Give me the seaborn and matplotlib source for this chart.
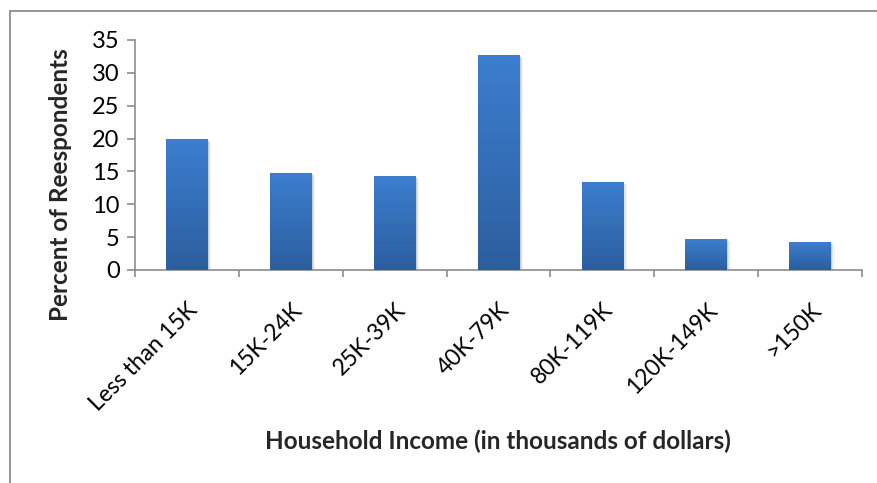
import numpy as np
import pandas as pd
import matplotlib
matplotlib.use("Agg")
import matplotlib.pyplot as plt
from matplotlib.colors import LinearSegmentedColormap
from matplotlib.patches import Rectangle
import seaborn as sns

# Survey results: share of respondents per household income bracket
income_brackets = ["Less than 15K", "15K-24K", "25K-39K", "40K-79K",
                   "80K-119K", "120K-149K", ">150K"]
percent_respondents = [20.0, 14.8, 14.3, 32.7, 13.4, 4.7, 4.3]
y_ticks = [0, 5, 10, 15, 20, 25, 30, 35]

sns.set_theme(style="white")
plt.rcParams["font.family"] = ["Lato", "DejaVu Sans"]

df = pd.DataFrame({"bracket": income_brackets, "pct": percent_respondents})

fig = plt.figure(figsize=(8.77, 4.83), dpi=100)
ax = fig.add_axes([135 / 877, 1 - 270 / 483, 727 / 877, 230 / 483])

sns.barplot(data=df, x="bracket", y="pct", ax=ax, color="#3870B8",
            width=0.4, saturation=1.0, zorder=3)

# vertical gradient fill on every bar, clipped to the bar shape
grad_cmap = LinearSegmentedColormap.from_list("bar_grad", ["#2C5E9E", "#3C7ECF"])
grad = np.linspace(0, 1, 256).reshape(-1, 1)
for bar in list(ax.patches):
    x0, y0 = bar.get_x(), bar.get_y()
    w, h = bar.get_width(), bar.get_height()
    # soft drop shadow
    for k, a in enumerate([0.10, 0.07, 0.04]):
        off = 0.012 * (k + 1)
        sh = Rectangle((x0 + off, y0 - 0.15 * (k + 1)), w, h, facecolor="black",
                       alpha=a, edgecolor="none", zorder=2)
        ax.add_patch(sh)
    im = ax.imshow(grad, cmap=grad_cmap, aspect="auto", origin="lower",
                   extent=[x0, x0 + w, y0, y0 + h], zorder=4)
    im.set_clip_path(bar)
    bar.set_edgecolor("none")

ax.set_xlim(-0.5, len(income_brackets) - 0.5)
ax.set_ylim(0, 35)
ax.set_yticks(y_ticks)
ax.set_yticklabels([str(t) for t in y_ticks], fontsize=17, color="black")

# category labels at bar centres, tick marks at category boundaries
ax.set_xticks(range(len(income_brackets)))
ax.set_xticklabels(income_brackets, rotation=45, ha="right",
                   rotation_mode="anchor", fontsize=16.5, color="black")
ax.set_xticks(np.arange(-0.5, len(income_brackets), 1.0), minor=True)
ax.tick_params(axis="x", which="major", length=0, pad=21)
ax.tick_params(axis="x", which="minor", length=5, width=1.2, color="#8C8C8C",
               direction="out", bottom=True)
ax.tick_params(axis="y", which="major", length=6, width=1.2, color="#8C8C8C",
               direction="out", left=True, pad=5)

for side in ["top", "right"]:
    ax.spines[side].set_visible(False)
for side in ["left", "bottom"]:
    ax.spines[side].set_color("#8C8C8C")
    ax.spines[side].set_linewidth(1.2)

ax.set_xlabel("")
ax.set_ylabel("")
fig.text(61 / 877, 1 - 185 / 483, "Percent of Reespondents", rotation=90,
         ha="center", va="center", fontsize=17.5, fontweight="bold")
fig.text(498 / 877, 1 - 441 / 483, "Household Income (in thousands of dollars)",
         ha="center", va="center", fontsize=17.5, fontweight="bold")

# outer chart frame
frame = Rectangle((9.5 / 877, -0.1), 1.2, 1 - 10.5 / 483 + 0.1,
                  transform=fig.transFigure, fill=False,
                  edgecolor="#8C8C8C", linewidth=1.3)
fig.patches.append(frame)

fig.savefig("out.png", dpi=100)
